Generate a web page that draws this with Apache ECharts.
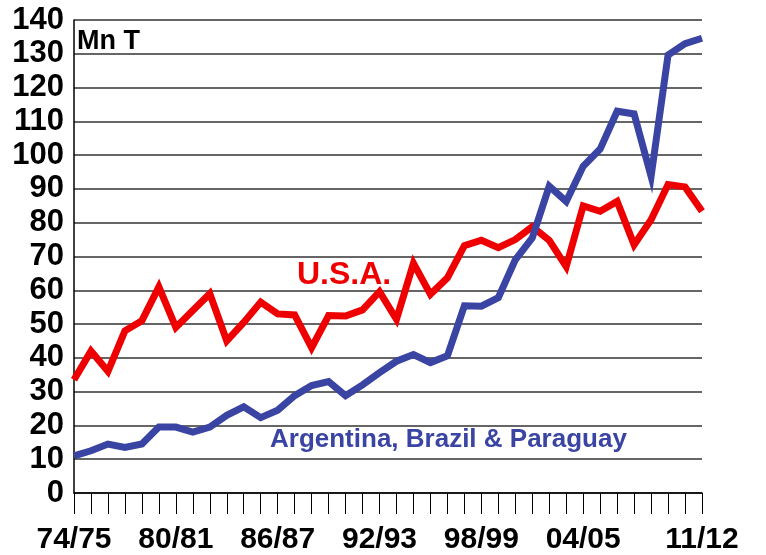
<!DOCTYPE html>
<html>
<head>
<meta charset="utf-8">
<script src="https://cdn.jsdelivr.net/npm/echarts@6/dist/echarts.min.js"></script>
<style>
  html, body { margin: 0; padding: 0; background: #fff; }
  #main { width: 766px; height: 555px; }
</style>
</head>
<body>
<div id="main"></div>
<script>
var myChart = echarts.init(document.getElementById('main'));

// seasons 74/75 .. 11/12
var seasons = [];
for (var y = 1974; y <= 2011; y++) {
    var a = String(y).slice(2), b = String(y + 1).slice(2);
    seasons.push(a + '/' + b);
}
var labelIdx = [0, 6, 12, 18, 24, 30, 37];

var usa = [33.5, 42, 36, 48, 51, 61, 49, 54, 59, 45,
           50.5, 56.5, 53, 52.7, 43, 52.5, 52.4, 54.2, 59.6, 51.4,
           68, 58.8, 63.7, 73.2, 74.8, 72.6, 75, 78.8, 74.8, 67,
           85, 83.4, 86.3, 73.5, 80.9, 91.3, 90.6, 83.4];
var abp = [11, 12.5, 14.5, 13.5, 14.5, 19.5, 19.5, 18, 19.5, 23,
           25.5, 22.3, 24.5, 28.8, 31.8, 33, 28.8, 32, 35.6, 39,
           41, 38.6, 40.6, 55.4, 55.3, 57.8, 69, 75.5, 90.8, 86.3,
           96.7, 101.8, 113, 112.2, 93.7, 129.6, 133, 134.6];

var font = 'Liberation Sans, Arial, sans-serif';

var option = {
    backgroundColor: '#ffffff',
    animation: false,
    grid: {
        left: 74,
        right: 64,
        top: 20,
        bottom: 61,
    },
    xAxis: {
        type: 'category',
        boundaryGap: false,
        data: seasons,
        axisLine: {
            lineStyle: { color: '#000', width: 1.5 },
        },
        axisTick: {
            interval: 0,
            length: 21,
            lineStyle: { color: '#000', width: 1 },
        },
        axisLabel: {
            interval: function (i) { return labelIdx.indexOf(i) >= 0; },
            margin: 32,
            fontSize: 30,
            fontWeight: 'bold',
            fontFamily: font,
            color: '#000',
        },
        splitLine: { show: false },
    },
    yAxis: {
        type: 'value',
        min: 0,
        max: 140,
        interval: 10,
        axisLine: {
            show: true,
            lineStyle: { color: '#000', width: 1.5 },
        },
        axisTick: { show: false },
        axisLabel: {
            margin: 10,
            fontSize: 31,
            fontWeight: 'bold',
            fontFamily: font,
            color: '#000',
        },
        splitLine: {
            lineStyle: { color: '#333', width: 1.5 },
        },
    },
    graphic: [{
        type: 'text',
        left: 77,
        top: 28,
        style: {
            text: 'Mn T',
            font: 'bold 27px ' + font,
            fill: '#000',
        },
    }, {
        type: 'text',
        x: 297,
        y: 275,
        style: {
            text: 'U.S.A.',
            font: 'bold 32px ' + font,
            fill: '#EE0000',
            verticalAlign: 'middle',
        },
    }, {
        type: 'text',
        x: 270,
        y: 440,
        style: {
            text: 'Argentina, Brazil & Paraguay',
            font: 'bold 26px ' + font,
            fill: '#3A44A2',
            verticalAlign: 'middle',
        },
    }],
    series: [{
        name: 'U.S.A.',
        type: 'line',
        data: usa,
        showSymbol: false,
        symbol: 'none',
        lineStyle: { color: '#EE0000', width: 7, join: 'miter' },
    }, {
        name: 'Argentina, Brazil & Paraguay',
        type: 'line',
        data: abp,
        showSymbol: false,
        symbol: 'none',
        lineStyle: { color: '#3A44A2', width: 7, join: 'miter' },
    }]
};
myChart.setOption(option);
</script>
</body>
</html>
